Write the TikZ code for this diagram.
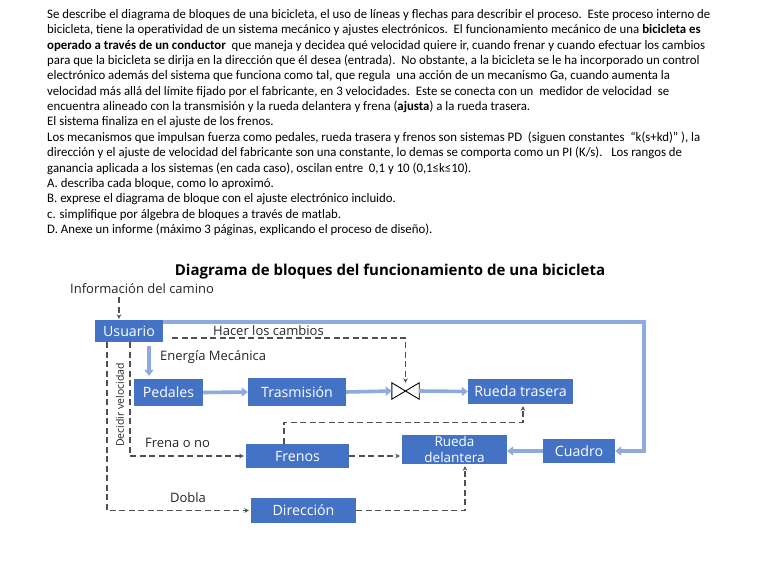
\documentclass[tikz,border=0pt]{standalone}
\usepackage{fontspec}
\usetikzlibrary{arrows.meta,calc}
\newfontfamily\bodyfont[FakeStretch=0.985]{Carlito}
\newfontfamily\dgfont{Open Sans}
\definecolor{boxblue}{HTML}{4472C4}
\definecolor{lineblue}{HTML}{8FAADC}
\definecolor{dashgray}{HTML}{505050}
\definecolor{txtgray}{HTML}{262626}
\begin{document}
\begin{tikzpicture}[x=1pt,y=-1pt,
  bodyline/.style={anchor=base west,inner sep=0pt,font=\bodyfont\fontsize{13}{14}\selectfont,text=black},
  blk/.style={fill=boxblue,text=white,inner sep=0pt,align=center,font=\dgfont\fontsize{14.2}{15}\selectfont},
  thk/.style={draw=lineblue,line width=3.6pt,-{Triangle[width=9pt,length=6pt]}},
  dsh/.style={draw=dashgray,line width=1.1pt,dash pattern=on 6pt off 3.5pt,-{Stealth[width=4.5pt,length=4.5pt]}},
  lbl/.style={inner sep=0pt,text=txtgray,font=\dgfont\fontsize{13}{14}\selectfont}]
\path[use as bounding box,fill=white] (0,0) rectangle (768,576);
% body text
\node[bodyline] (l1) at (47,18.5) {Se describe el diagrama de bloques de una bicicleta, el uso de líneas y flechas para describir el proceso.\ \ Este proceso interno de};
\node[bodyline] (l2) at (47,33.85) {bicicleta, tiene la operatividad de un sistema mecánico y ajustes electrónicos.\ \ El funcionamiento mecánico de una \textbf{bicicleta es}};
\node[bodyline] (l3) at (47,49.2) {\textbf{operado a través de un conductor}\ \ que maneja y decidea qué velocidad quiere ir, cuando frenar y cuando efectuar los cambios};
\node[bodyline] (l4) at (47,64.55) {para que la bicicleta se dirija en la dirección que él desea (entrada).\ \ No obstante, a la bicicleta se le ha incorporado un control};
\node[bodyline] (l5) at (47,79.9) {electrónico además del sistema que funciona como tal, que regula\ \ una acción de un mecanismo Ga, cuando aumenta la};
\node[bodyline] (l6) at (47,95.25) {velocidad más allá del límite fijado por el fabricante, en 3 velocidades.\ \ Este se conecta con un\ \ medidor de velocidad\ \ se};
\node[bodyline] (l7) at (47,110.6) {encuentra alineado con la transmisión y la rueda delantera y frena (\textbf{ajusta}) a la rueda trasera.};
\node[bodyline] (l8) at (47,125.95) {El sistema finaliza en el ajuste de los frenos.};
\node[bodyline] (l9) at (47,141.3) {Los mecanismos que impulsan fuerza como pedales, rueda trasera y frenos son sistemas PD\ \ (siguen constantes\ \ “k(s+kd)” ), la};
\node[bodyline] (l10) at (47,156.65) {dirección y el ajuste de velocidad del fabricante son una constante, lo demas se comporta como un PI (K/s).\ \ \ Los rangos de};
\node[bodyline] (l11) at (47,172) {ganancia aplicada a los sistemas (en cada caso), oscilan entre\ \ 0,1 y 10 (0,1≤k≤10).};
\node[bodyline] (l12) at (47,187.35) {A. describa cada bloque, como lo aproximó.};
\node[bodyline] (l13) at (47,202.7) {B. exprese el diagrama de bloque con el ajuste electrónico incluido.};
\node[bodyline] (l14) at (47,218.05) {c. simplifique por álgebra de bloques a través de matlab.};
\node[bodyline] (l15) at (47,233.4) {D. Anexe un informe (máximo 3 páginas, explicando el proceso de diseño).};
% title
\node[inner sep=0pt,text=black,font=\dgfont\bfseries\fontsize{15}{16}\selectfont] (title) at (390,272) {Diagrama de bloques del funcionamiento de una bicicleta};
\node[lbl,anchor=west] (info) at (70,289) {Información del camino};
% blocks
\node[blk,minimum width=68pt,minimum height=22pt] (usr) at (129,331) {Usuario};
\node[blk,minimum width=69pt,minimum height=27pt] (ped) at (168.5,392.5) {Pedales};
\node[blk,minimum width=98pt,minimum height=28pt] (tra) at (297,392) {Trasmisión};
\node[blk,minimum width=105pt,minimum height=25pt] (rtr) at (520.5,391.5) {Rueda trasera};
\node[blk,minimum width=105pt,minimum height=29pt,font=\dgfont\fontsize{13.5}{15.5}\selectfont] (rdl) at (454.5,449.5) {Rueda\\delantera};
\node[blk,minimum width=72pt,minimum height=24pt] (cua) at (579,451) {Cuadro};
\node[blk,minimum width=103pt,minimum height=24pt] (fre) at (297.5,456) {Frenos};
\node[blk,minimum width=105pt,minimum height=25pt] (dir) at (303.5,510.5) {Dirección};
% valve
\node[inner sep=0pt,minimum width=27pt,minimum height=16pt] (vlv) at (405.5,391) {};
\draw[black,line width=0.9pt,line join=miter] (vlv.north west) -- (vlv.center) -- (vlv.south west) -- cycle
  (vlv.north east) -- (vlv.center) -- (vlv.south east) -- cycle;
% thick connectors
\coordinate (fbk) at (644,451);
\draw[thk] (usr.east |- 0,322) -| (fbk) -- (cua.east);
\draw[thk] (cua.west) -- (rdl.east |- cua.west);
\draw[thk,shorten <=4pt,shorten >=3pt] (usr.south -| 149,0) -- (ped.north -| 149,0);
\draw[thk] (ped.east) -- (tra.west);
\draw[thk] (tra.east) -- (vlv.west);
\draw[thk] (vlv.east) -- (rtr.west);
% labels
\node[lbl] (hacer) at (268.5,331) {Hacer los cambios};
\node[lbl,anchor=west] (energia) at (160,357) {Energía Mecánica};
\node[lbl,anchor=west] (frena) at (145,443) {Frena o no};
\node[lbl] (dobla) at (188,498) {Dobla};
\node[lbl,rotate=90,font=\dgfont\fontsize{10.5}{12}\selectfont] (decidir) at (120,405) {Decidir velocidad};
% dashed connectors
\draw[dsh,shorten >=1pt] (info.south -| 119,0) ++(0,3) -- (usr.north -| 119,0);
\draw[dsh,shorten <=9pt] (usr.east |- 0,338) -| (vlv.north);
\draw[dsh,shorten >=2pt] (usr.south -| 107,0) |- (dir.west);
\draw[dsh,shorten >=2pt] (usr.south -| 130,0) |- (fre.west);
\draw[dsh,shorten >=2pt] (fre.east) -- (fre.east -| rdl.west);
\draw[dsh,shorten >=2pt] (fre.north -| 284,0) |- ($(rtr.south -| 523,0)+(0,18)$) -- (rtr.south -| 523,0);
\draw[dsh,shorten >=2pt] (dir.east) -| (rdl.south -| 465,0);
\end{tikzpicture}
\end{document}
